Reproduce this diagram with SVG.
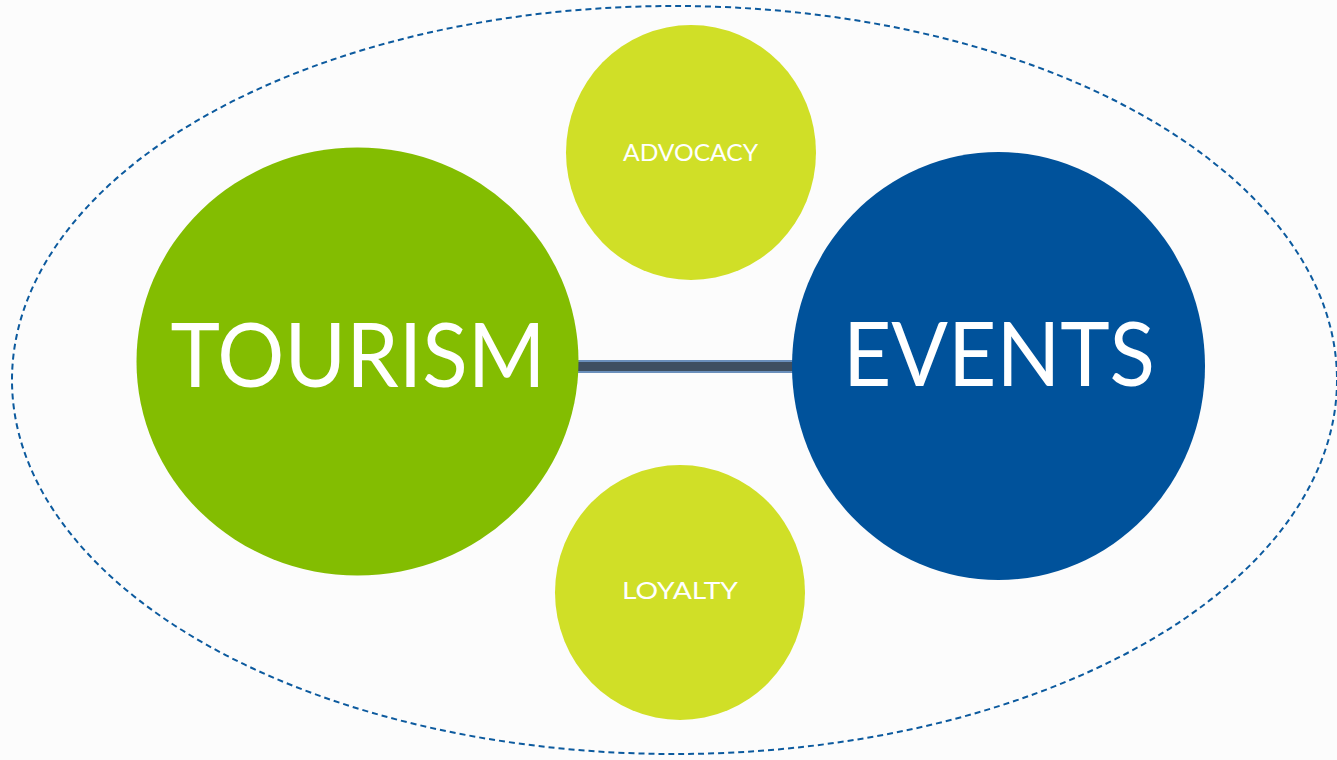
<svg xmlns="http://www.w3.org/2000/svg" width="1337" height="760" viewBox="0 0 1337 760">
<style>
.big{font-family:"Lato","Open Sans","Liberation Sans",sans-serif;font-size:90px;fill:#fff;font-weight:400}
.small{font-family:"Lato","Open Sans","Liberation Sans",sans-serif;font-size:24px;fill:#fff;font-weight:400}
.lime{fill:#d0df27}
</style>
<rect width="1337" height="760" fill="#fcfcfc"/>
<ellipse cx="674.5" cy="380" rx="662.5" ry="374" fill="none" stroke="#0c5a9e" stroke-width="2" stroke-dasharray="6,4"/>
<g id="connectors">
<line x1="575" y1="366.5" x2="796" y2="366.5" stroke="#6a8fbb" stroke-width="13"/>
<line x1="575" y1="366.5" x2="796" y2="366.5" stroke="#3e4f61" stroke-width="9"/>
</g>
<g id="tourism">
<ellipse cx="357.5" cy="361.5" rx="221" ry="214" fill="#83bd01"/>
<text class="big" x="358" y="387" text-anchor="middle" textLength="375" lengthAdjust="spacingAndGlyphs">TOURISM</text>
</g>
<g id="events">
<ellipse cx="998.5" cy="366" rx="206.5" ry="214" fill="#00529b"/>
<text class="big" x="999" y="386" text-anchor="middle" textLength="312" lengthAdjust="spacingAndGlyphs">EVENTS</text>
</g>
<g id="advocacy">
<ellipse class="lime" cx="691" cy="152.5" rx="125" ry="127.5"/>
<text class="small" x="690.5" y="161" text-anchor="middle" textLength="135" lengthAdjust="spacingAndGlyphs">ADVOCACY</text>
</g>
<g id="loyalty">
<ellipse class="lime" cx="680" cy="592.5" rx="125" ry="127.5"/>
<text class="small" x="680" y="599" text-anchor="middle" textLength="116" lengthAdjust="spacingAndGlyphs">LOYALTY</text>
</g>
</svg>
